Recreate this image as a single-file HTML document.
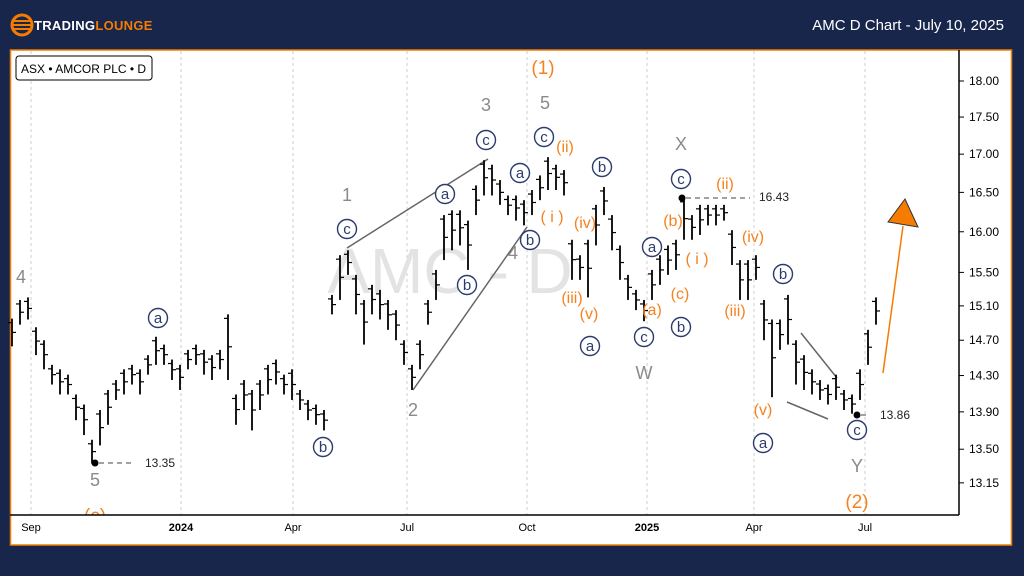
<!DOCTYPE html>
<html><head><meta charset="utf-8"><style>
html,body{margin:0;padding:0;background:#17264a;width:1024px;height:576px;overflow:hidden;font-family:"Liberation Sans",sans-serif}
svg{display:block}
</style></head><body>
<svg width="1024" height="576" viewBox="0 0 1024 576" id="svg" font-family="Liberation Sans, sans-serif">
<defs><clipPath id="plotclip"><rect x="10" y="50" width="949" height="465"/></clipPath></defs>
<rect x="0" y="0" width="1024" height="576" fill="#17264a"/>
<g>
<circle cx="22" cy="25" r="10" fill="none" stroke="#f57c00" stroke-width="3"/>
<line x1="13" y1="21" x2="31" y2="21" stroke="#f57c00" stroke-width="2"/>
<line x1="13" y1="25" x2="31" y2="25" stroke="#f57c00" stroke-width="2"/>
<line x1="13" y1="29" x2="31" y2="29" stroke="#f57c00" stroke-width="2"/>
<text x="34" y="30" font-size="13" font-weight="bold" fill="#fff" letter-spacing="0.3">TRADING<tspan fill="#f57c00">LOUNGE</tspan></text>
</g>
<text x="1004" y="30" font-size="15" fill="#fff" text-anchor="end">AMC D Chart - July 10, 2025</text>
<rect x="10.5" y="50" width="1001" height="495" fill="#fff" stroke="#f57c00" stroke-width="1.5"/>
<g id="grid"></g>
<text x="450" y="293" font-size="64" fill="#e3e3e3" text-anchor="middle">AMC - D</text>
<g stroke="#666" stroke-width="1.5">
<line x1="347" y1="248" x2="488" y2="159"/>
<line x1="413" y1="390" x2="527" y2="227"/>
<line x1="801" y1="333" x2="837" y2="378"/>
<line x1="787" y1="402" x2="828" y2="419"/>
</g>
<g id="bars"></g>
<g font-size="12" fill="#222">
<circle cx="95" cy="463" r="3.5" fill="#000"/><line x1="99" y1="463" x2="135" y2="463" stroke="#444" stroke-dasharray="5,4"/><text x="145" y="467">13.35</text>
<circle cx="682" cy="198" r="3.5" fill="#000"/><line x1="686" y1="198" x2="750" y2="198" stroke="#444" stroke-dasharray="5,4"/><text x="759" y="201">16.43</text>
<circle cx="857" cy="415" r="3.5" fill="#000"/><line x1="861" y1="415" x2="870" y2="415" stroke="#444" stroke-dasharray="5,4"/><text x="880" y="419">13.86</text>
</g>
<g>
<line x1="883" y1="373" x2="903" y2="226" stroke="#f57c00" stroke-width="1.5"/>
<polygon points="905,199 888,222 918,227" fill="#f57c00" stroke="#333" stroke-width="1"/>
</g>
<g id="labels" clip-path="url(#plotclip)"></g>
<line x1="10" y1="515" x2="959" y2="515" stroke="#000" stroke-width="1.5"/>
<line x1="959" y1="50" x2="959" y2="515" stroke="#000" stroke-width="1.5"/>
<g id="yaxis"></g>
<g id="xaxis"></g>
<g>
<rect x="16" y="56" width="136" height="24" rx="3" fill="#fff" stroke="#000"/>
<text x="21" y="73" font-size="12" fill="#000">ASX • AMCOR PLC • D</text>
</g>
</svg>
<script>
const barX = [12,20,28,36,44,52,60,68,76,84,92,100,108,116,124,132,140,148,156,164,172,180,188,196,204,212,220,228,236,244,252,260,268,276,284,292,300,308,316,324,332,340,348,356,364,372,380,388,396,404,412,420,428,436,444,452,460,468,476,484,492,500,508,516,524,532,540,548,556,564,572,580,588,596,604,612,620,628,636,644,652,660,668,676,684,692,700,708,716,724,732,740,748,756,764,772,780,788,796,804,812,820,828,836,844,852,860,868,876];
const highs = [14.95,15.17,15.2,14.85,14.7,14.42,14.37,14.31,14.09,13.98,13.6,13.92,14.14,14.25,14.37,14.42,14.37,14.53,14.74,14.65,14.48,14.42,14.59,14.65,14.59,14.53,14.59,15.0,14.09,14.25,14.14,14.25,14.42,14.48,14.31,14.37,14.14,14.03,13.98,13.92,15.23,15.71,15.77,15.47,15.17,15.35,15.29,15.17,15.05,14.7,14.42,14.7,15.17,15.53,16.21,16.27,16.27,16.14,16.59,16.92,16.86,16.66,16.46,16.46,16.4,16.53,16.72,16.96,16.86,16.79,15.9,15.71,15.9,16.34,16.57,16.21,15.83,15.47,15.29,15.17,15.53,15.71,15.83,15.9,16.43,16.21,16.34,16.34,16.34,16.34,16.02,15.65,15.65,15.71,15.17,14.94,14.94,15.23,14.7,14.53,14.37,14.25,14.2,14.31,14.14,14.09,14.37,14.82,15.2];
const lows = [14.63,14.88,14.94,14.53,14.37,14.2,14.09,14.09,13.81,13.65,13.35,13.54,13.76,14.03,14.09,14.2,14.09,14.31,14.42,14.42,14.25,14.14,14.37,14.42,14.31,14.25,14.37,14.25,13.76,13.92,13.7,13.92,14.09,14.2,14.09,14.03,13.92,13.81,13.76,13.7,15.0,15.17,15.47,15.0,14.65,15.0,14.94,14.82,14.7,14.42,14.14,14.37,14.88,15.17,15.65,15.77,15.83,15.53,16.21,16.46,16.46,16.34,16.21,16.14,16.08,16.21,16.4,16.53,16.53,16.46,15.41,15.41,15.2,15.83,16.21,15.77,15.41,15.17,15.05,14.92,15.17,15.35,15.47,15.53,15.9,15.9,15.96,16.08,16.08,16.14,15.59,15.17,15.17,15.41,14.7,14.06,14.59,14.65,14.2,14.14,14.09,14.03,13.98,14.03,13.92,13.88,14.03,14.42,14.88];
const yTicks = [18.00,17.50,17.00,16.50,16.00,15.50,15.10,14.70,14.30,13.90,13.50,13.15];
const xTickLabels = ["Sep","2024","Apr","Jul","Oct","2025","Apr","Jul"];
const xTickPos = [31,181,293,407,527,647,754,865];
const NS="http://www.w3.org/2000/svg";
function yScale(p){return 81 + (Math.log(18) - Math.log(p)) * 1280;}
function mk(tag,attrs,parent){const e=document.createElementNS(NS,tag);for(const k in attrs)e.setAttribute(k,attrs[k]);parent.appendChild(e);return e;}
const grid=document.getElementById('grid'),ya=document.getElementById('yaxis'),xa=document.getElementById('xaxis'),bars=document.getElementById('bars'),labels=document.getElementById('labels');
xTickPos.forEach((x,i)=>{
  const g=mk('line',{x1:x,y1:51,x2:x,y2:515,stroke:'#cfcfcf','stroke-dasharray':'3,3'},grid);
  
  
  const t=mk('text',{x:x,y:531,'font-size':11,'text-anchor':'middle',fill:'#000','font-weight':(xTickLabels[i].length===4?'bold':'normal')},xa);
  t.textContent=xTickLabels[i];
  
  
});
yTicks.forEach(v=>{
  const y=yScale(v);
  const tk=mk('line',{x1:959,y1:y,x2:964,y2:y,stroke:'#000'},ya);
  
  
  const t=mk('text',{x:969,y:y+4,'font-size':12,fill:'#000'},ya);
  t.textContent=v.toFixed(2);
  
  
});
barX.forEach((x,i)=>{
  const yh=yScale(highs[i]),yl=yScale(lows[i]);
  const b=mk('line',{x1:x,y1:yh,x2:x,y2:yl,stroke:'#000','stroke-width':1.8},bars);
  
  
  const yc=yScale((highs[i]+lows[i])/2);
  mk('line',{x1:x,y1:yc,x2:x+4,y2:yc,stroke:'#000','stroke-width':1.2},bars);
  mk('line',{x1:x-4,y1:yh+4,x2:x,y2:yh+4,stroke:'#000','stroke-width':1.2},bars);
});
const gray=[["4",21,283],["5",95,486],["1",347,201],["2",413,416],["3",486,111],["4",513,259],["5",545,109],["X",681,150],["W",644,379],["Y",857,472]];
gray.forEach(a=>{const t=mk('text',{x:a[1],y:a[2],'font-size':18,'text-anchor':'middle',fill:'#8a8a8a'},labels);t.textContent=a[0];
  
  });
const orange=[["(1)",543,74,19],["(2)",857,508,19],["(c)",95,522,19],["(ii)",565,152,16],["( i )",552,222,16],["(iv)",585,228,16],["(iii)",572,303,16],["(v)",589,319,16],["(a)",652,315,16],["(b)",673,226,16],["(c)",680,299,16],["( i )",697,264,16],["(ii)",725,189,16],["(iv)",753,242,16],["(iii)",735,316,16],["(v)",763,415,16]];
orange.forEach(a=>{const t=mk('text',{x:a[1],y:a[2],'font-size':a[3],'text-anchor':'middle',fill:'#f5821f'},labels);t.textContent=a[0];
  
  });
const circ=[["a",158,318],["b",323,447],["c",347,229],["a",445,194],["b",467,285],["c",486,140],["a",520,173],["b",530,240],["c",544,137],["b",602,167],["a",590,346],["c",644,337],["a",652,247],["c",681,179],["b",681,327],["b",783,274],["a",763,443],["c",857,430]];
circ.forEach(a=>{
  const c=mk('circle',{cx:a[1],cy:a[2],r:9.5,fill:'#fff',stroke:'#2b3b6e','stroke-width':1.4},labels);
  
  
  const t=mk('text',{x:a[1],y:a[2]+5,'font-size':15,'text-anchor':'middle',fill:'#2b3b6e'},labels);t.textContent=a[0];
  
  
});
</script>
</body></html>
